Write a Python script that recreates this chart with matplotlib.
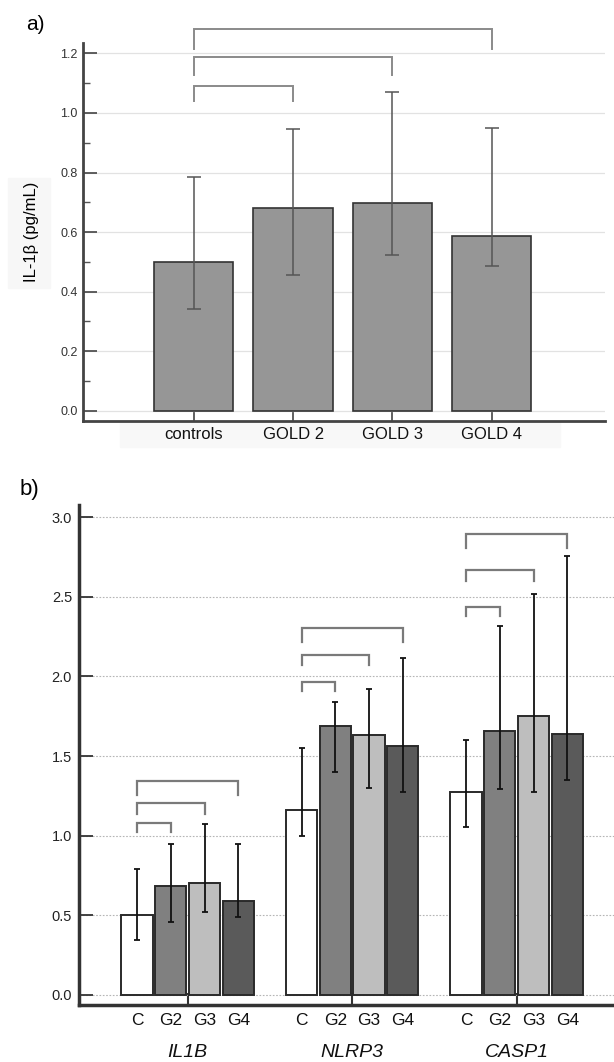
import matplotlib.pyplot as plt
import numpy as np
from matplotlib.patches import Rectangle
from matplotlib.ticker import MultipleLocator

plt.rcParams["font.family"] = ["Liberation Sans", "DejaVu Sans"]

# panel a: serum IL-1beta by GOLD stage (bar = median, whiskers = IQR)
GROUPS_A = ["controls", "GOLD 2", "GOLD 3", "GOLD 4"]
IL1B_PG = [0.500, 0.682, 0.699, 0.587]
IL1B_PG_LO = [0.341, 0.456, 0.522, 0.487]
IL1B_PG_HI = [0.785, 0.946, 1.072, 0.948]
BRACKETS_A = [(0, 1), (0, 2), (0, 3)]
BRACKET_TOP_A = [1.090, 1.187, 1.283]
BRACKET_LEG_A = [1.040, 1.128, 1.216]

# panel b: gene expression per stage
GENES = ["IL1B", "NLRP3", "CASP1"]
STAGES = ["C", "G2", "G3", "G4"]
IL1B_EXPR = [0.503, 0.686, 0.700, 0.591]
IL1B_LO = [0.342, 0.458, 0.522, 0.491]
IL1B_HI = [0.788, 0.949, 1.073, 0.949]
NLRP3_EXPR = [1.161, 1.690, 1.633, 1.564]
NLRP3_LO = [0.997, 1.400, 1.301, 1.277]
NLRP3_HI = [1.548, 1.840, 1.918, 2.113]
CASP1_EXPR = [1.275, 1.659, 1.752, 1.640]
CASP1_LO = [1.052, 1.294, 1.275, 1.351]
CASP1_HI = [1.600, 2.319, 2.516, 2.753]
BRACKET_TOP_B = {
    "IL1B": [1.080, 1.206, 1.343],
    "NLRP3": [1.965, 2.136, 2.302],
    "CASP1": [2.433, 2.670, 2.896],
}
BRACKET_LEG_B = {
    "IL1B": [1.021, 1.139, 1.258],
    "NLRP3": [1.911, 2.070, 2.219],
    "CASP1": [2.378, 2.599, 2.808],
}
STAGE_COLORS = ["#ffffff", "#808080", "#bebebe", "#5a5a5a"]

expr_b = {"IL1B": IL1B_EXPR, "NLRP3": NLRP3_EXPR, "CASP1": CASP1_EXPR}
lo_b = {"IL1B": IL1B_LO, "NLRP3": NLRP3_LO, "CASP1": CASP1_LO}
hi_b = {"IL1B": IL1B_HI, "NLRP3": NLRP3_HI, "CASP1": CASP1_HI}


def draw_bracket(ax, x0, x1, top, leg, color, lw):
    ax.plot([x0, x0, x1, x1], [leg, top, top, leg], color=color, lw=lw,
            solid_joinstyle="miter", clip_on=False, zorder=4)


fig = plt.figure(figsize=(6.14, 10.62), dpi=100)
W, H = 614, 1062

# faint label backdrops seen in panel a
fig.patches.append(Rectangle((8 / W, 1 - 288 / H), 42 / W, 110 / H,
                             transform=fig.transFigure, color="#f7f7f7", zorder=-1))
fig.patches.append(Rectangle((120 / W, 1 - 447 / H), 440 / W, 25 / H,
                             transform=fig.transFigure, color="#f8f8f8", zorder=-1))

# ---------------- panel a ----------------
ax_a = fig.add_axes([83 / W, 1 - 421 / H, (605 - 83) / W, (421 - 43) / H])
ax_a.patch.set_alpha(0)
xa = np.arange(len(GROUPS_A))
vals = np.array(IL1B_PG)
yerr_a = [vals - np.array(IL1B_PG_LO), np.array(IL1B_PG_HI) - vals]
ax_a.bar(xa, vals, width=0.8, color="#969696", edgecolor="#333333", linewidth=1.2, zorder=2)
ax_a.errorbar(xa, vals, yerr=yerr_a, fmt="none", ecolor="#555555", elinewidth=1.1,
              capsize=5, capthick=1.1, zorder=3)
for (i, j), top, leg in zip(BRACKETS_A, BRACKET_TOP_A, BRACKET_LEG_A):
    draw_bracket(ax_a, xa[i], xa[j], top, leg, "#8a8a8a", 1.4)

ax_a.set_xlim(-1.115, 4.14)
ax_a.set_ylim(-0.0346, 1.235)
ax_a.yaxis.set_major_locator(MultipleLocator(0.2))
ax_a.yaxis.set_minor_locator(MultipleLocator(0.1))
ax_a.yaxis.set_major_formatter(plt.FuncFormatter(lambda v, p: f"{v:.1f}"))
ax_a.grid(axis="y", color="#e2e2e2", lw=0.9, zorder=0)
ax_a.set_axisbelow(True)
ax_a.set_xticks(xa)
ax_a.set_xticklabels(GROUPS_A, fontsize=12, color="#111111")
ax_a.tick_params(axis="x", direction="in", length=9, width=1.2, color="#444444", pad=4)
ax_a.tick_params(axis="y", which="major", direction="in", length=10, width=1.2,
                 color="#444444", labelsize=9, labelcolor="#333333", pad=4)
ax_a.tick_params(axis="y", which="minor", direction="in", length=5, width=1.0, color="#555555")
for side in ("top", "right"):
    ax_a.spines[side].set_visible(False)
for side in ("left", "bottom"):
    ax_a.spines[side].set_color("#444444")
    ax_a.spines[side].set_linewidth(2)
ax_a.set_ylabel("IL-1\u03b2 (pg/mL)", fontsize=12, labelpad=15)
fig.text(26 / W, 1 - 24 / H, "a)", fontsize=15, va="center", ha="left")

# ---------------- panel b ----------------
ax_b = fig.add_axes([79 / W, 1 - 1005 / H, (W - 79) / W, (1005 - 505.5) / H])
slot = 0.2053
bar_w = 0.1905
gx = np.arange(len(GENES))
bar_x, bar_lbl = [], []
for g, gene in enumerate(GENES):
    v = np.array(expr_b[gene])
    xs = gx[g] + (np.arange(len(STAGES)) - 1.5) * slot
    ax_b.bar(xs, v, width=bar_w, color=STAGE_COLORS, edgecolor="#2a2a2a",
             linewidth=1.4, zorder=2)
    yerr = [v - np.array(lo_b[gene]), np.array(hi_b[gene]) - v]
    ax_b.errorbar(xs, v, yerr=yerr, fmt="none", ecolor="#111111", elinewidth=1.3,
                  capsize=2.5, capthick=1.3, zorder=3)
    for k, (top, leg) in enumerate(zip(BRACKET_TOP_B[gene], BRACKET_LEG_B[gene])):
        draw_bracket(ax_b, xs[0], xs[k + 1], top, leg, "#7a7a7a", 1.6)
    bar_x.extend(xs)
    bar_lbl.extend(STAGES)

ax_b.set_xlim(-0.661, 2.592)
ax_b.set_ylim(-0.063, 3.073)
ax_b.yaxis.set_major_locator(MultipleLocator(0.5))
ax_b.yaxis.set_major_formatter(plt.FuncFormatter(lambda v, p: f"{v:.1f}"))
ax_b.grid(axis="y", color="#b5b5b5", lw=0.8, ls=(0, (1.5, 1.5)), zorder=0)
ax_b.set_axisbelow(True)
ax_b.set_xticks(gx)
ax_b.set_xticklabels([])
ax_b.set_xticks(bar_x, minor=True)
ax_b.set_xticklabels(bar_lbl, minor=True, fontsize=12.5, color="#111111")
ax_b.tick_params(axis="x", which="major", direction="in", length=9, width=1.5, color="#333333")
ax_b.tick_params(axis="x", which="minor", length=0, pad=6)
ax_b.tick_params(axis="y", direction="in", length=10, width=1.3, color="#333333",
                 labelsize=10.5, labelcolor="#222222", pad=5)
for g, gene in enumerate(GENES):
    ax_b.annotate(gene, xy=(gx[g], 0), xycoords=("data", "axes fraction"),
                  xytext=(0, -34), textcoords="offset points", ha="center",
                  va="center", fontsize=14, style="italic", color="#111111")
for side in ("top", "right"):
    ax_b.spines[side].set_visible(False)
for side in ("left", "bottom"):
    ax_b.spines[side].set_color("#333333")
    ax_b.spines[side].set_linewidth(2.5)
fig.text(20 / W, 1 - 489 / H, "b)", fontsize=16, va="center", ha="left")

fig.savefig("out.png", dpi=100)
